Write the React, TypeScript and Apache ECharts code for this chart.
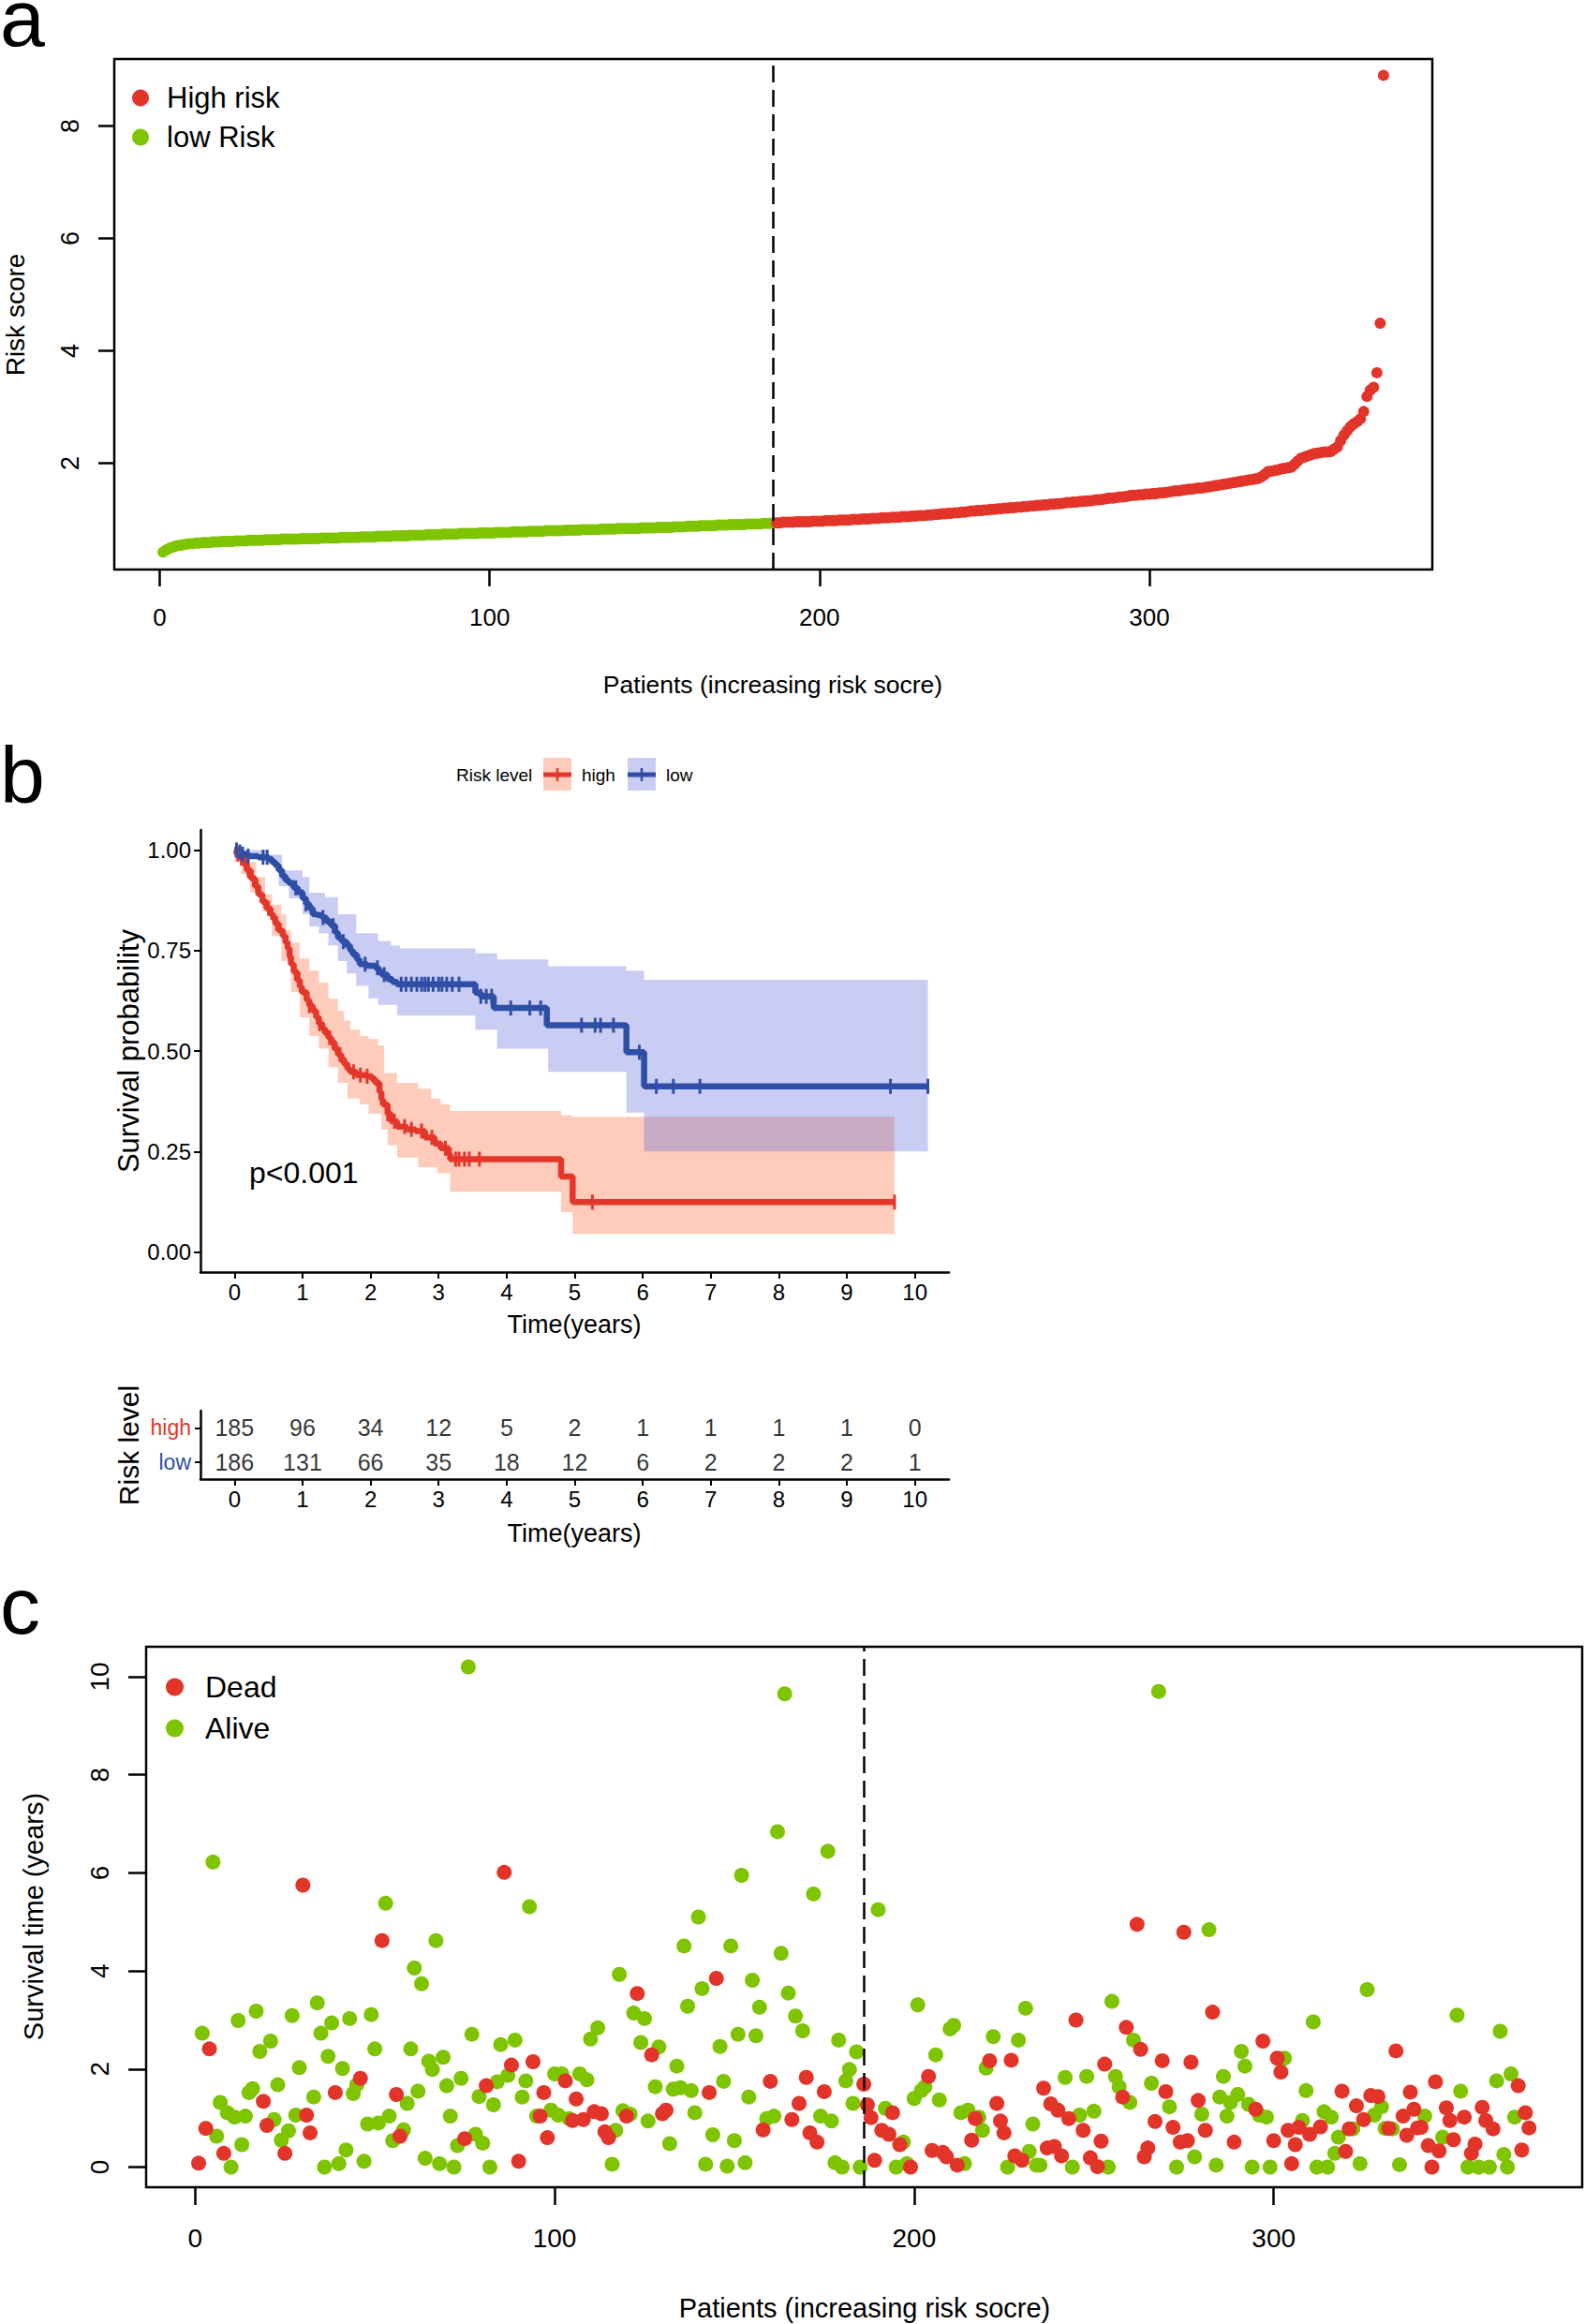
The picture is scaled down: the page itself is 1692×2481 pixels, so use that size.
import React, { useEffect, useRef } from 'react';
import * as echarts from 'echarts';

const FONT = 'Liberation Sans';
const RED = '#E3342A';
const GREEN = '#7EC400';
const KM_RED = '#E3372B';
const KM_BLUE = '#2F4FA7';
const RED_BAND = 'rgba(255,110,60,0.35)';
const BLUE_BAND = 'rgba(90,100,220,0.33)';

// ---------- Panel a: risk scores (sorted) ----------
const lowRiskScores = [
  0.42,0.46,0.49,0.51,0.53,0.54,0.55,0.56,0.57,0.57,0.58,0.58,0.59,0.59,0.59,0.60,0.60,0.60,0.61,0.61,
  0.61,0.61,0.62,0.62,0.62,0.62,0.63,0.63,0.63,0.63,0.63,0.64,0.64,0.64,0.64,0.64,0.65,0.65,0.65,0.65,
  0.65,0.65,0.66,0.66,0.66,0.66,0.66,0.66,0.67,0.67,0.67,0.67,0.67,0.67,0.68,0.68,0.68,0.68,0.68,0.68,
  0.69,0.69,0.69,0.69,0.69,0.70,0.70,0.70,0.70,0.70,0.71,0.71,0.71,0.71,0.71,0.72,0.72,0.72,0.72,0.72,
  0.73,0.73,0.73,0.73,0.73,0.74,0.74,0.74,0.74,0.74,0.75,0.75,0.75,0.75,0.75,0.75,0.76,0.76,0.76,0.76,
  0.76,0.77,0.77,0.77,0.77,0.77,0.78,0.78,0.78,0.78,0.78,0.79,0.79,0.79,0.79,0.79,0.80,0.80,0.80,0.80,
  0.80,0.80,0.81,0.81,0.81,0.81,0.81,0.82,0.82,0.82,0.82,0.82,0.82,0.83,0.83,0.83,0.83,0.83,0.84,0.84,
  0.84,0.84,0.84,0.84,0.84,0.85,0.85,0.85,0.85,0.85,0.86,0.86,0.86,0.86,0.86,0.87,0.87,0.87,0.87,0.88,
  0.88,0.88,0.88,0.89,0.89,0.89,0.89,0.89,0.90,0.90,0.90,0.90,0.91,0.91,0.91,0.91,0.91,0.92,0.92,0.92,
  0.92,0.92,0.93,0.93,0.93,0.94,
];
const highRiskScores = [
  0.94,0.94,0.95,0.95,0.95,0.95,0.96,0.96,0.96,0.96,0.96,0.97,0.97,0.97,0.97,0.98,0.98,0.98,0.98,0.99,
  0.99,0.99,0.99,1.00,1.00,1.00,1.01,1.01,1.01,1.02,1.02,1.02,1.03,1.03,1.03,1.04,1.04,1.04,1.05,1.05,
  1.05,1.06,1.06,1.07,1.07,1.07,1.08,1.08,1.09,1.09,1.10,1.10,1.11,1.11,1.12,1.12,1.13,1.13,1.14,1.15,
  1.15,1.16,1.16,1.17,1.17,1.18,1.18,1.19,1.19,1.20,1.20,1.21,1.21,1.22,1.22,1.23,1.23,1.24,1.24,1.25,
  1.25,1.26,1.26,1.27,1.27,1.28,1.28,1.29,1.30,1.30,1.31,1.31,1.32,1.32,1.33,1.33,1.34,1.35,1.35,1.36,
  1.37,1.38,1.38,1.39,1.40,1.40,1.41,1.42,1.43,1.43,1.44,1.44,1.45,1.45,1.46,1.46,1.47,1.47,1.48,1.49,
  1.50,1.51,1.51,1.52,1.53,1.54,1.54,1.55,1.56,1.56,1.57,1.58,1.59,1.60,1.61,1.62,1.63,1.64,1.65,1.66,
  1.67,1.68,1.69,1.70,1.71,1.72,1.73,1.76,1.80,1.85,1.86,1.87,1.88,1.90,1.91,1.92,1.93,1.98,2.04,2.09,
  2.11,2.13,2.15,2.17,2.18,2.19,2.20,2.20,2.21,2.25,2.29,2.40,2.50,2.58,2.65,2.70,2.74,2.79,2.92,3.19,
  3.30,3.35,3.61,4.49,8.90,
];
const patientTicks = [0, 100, 200, 300];
const riskScoreTicks = [2, 4, 6, 8];
const cutoffPatient = 186;

// ---------- Panel b: Kaplan-Meier ----------
const years = [0, 1, 2, 3, 4, 5, 6, 7, 8, 9, 10];
const probTicks = [0, 0.25, 0.5, 0.75, 1];
const highKm = [
  [0,1.0],[0.03,0.99],[0.09,0.98],[0.14,0.965],[0.18,0.95],[0.24,0.93],[0.3,0.91],[0.35,0.89],[0.41,0.871],
  [0.47,0.855],[0.53,0.84],[0.57,0.828],[0.6,0.817],[0.65,0.8],[0.71,0.786],[0.75,0.77],[0.78,0.755],
  [0.81,0.735],[0.83,0.716],[0.87,0.697],[0.92,0.677],[0.96,0.66],[0.99,0.646],[1.06,0.627],[1.1,0.613],
  [1.15,0.6],[1.2,0.584],[1.24,0.568],[1.29,0.556],[1.33,0.545],[1.38,0.533],[1.42,0.522],[1.47,0.506],
  [1.52,0.491],[1.57,0.48],[1.61,0.468],[1.66,0.456],[1.7,0.448],[1.79,0.44],[1.93,0.437],[2.02,0.43],
  [2.07,0.421],[2.13,0.398],[2.16,0.38],[2.18,0.367],[2.25,0.344],[2.3,0.325],[2.39,0.312],[2.53,0.305],
  [2.66,0.301],[2.8,0.285],[2.94,0.27],[3.03,0.258],[3.15,0.243],[3.17,0.231],[4.8,0.188],[4.97,0.124],[9.7,0.124],
];
const lowKm = [
  [0,1.0],[0.05,0.995],[0.1,0.99],[0.2,0.985],[0.35,0.982],[0.5,0.978],[0.55,0.97],[0.6,0.962],[0.65,0.95],
  [0.7,0.935],[0.75,0.925],[0.8,0.918],[0.87,0.906],[0.93,0.895],[1.0,0.88],[1.05,0.866],[1.1,0.855],
  [1.15,0.84],[1.22,0.838],[1.29,0.832],[1.35,0.822],[1.42,0.812],[1.48,0.795],[1.52,0.782],[1.58,0.772],
  [1.65,0.762],[1.7,0.75],[1.74,0.74],[1.8,0.728],[1.84,0.716],[1.95,0.712],[2.07,0.707],[2.12,0.698],
  [2.16,0.69],[2.25,0.679],[2.32,0.672],[2.39,0.666],[3.54,0.645],[3.62,0.636],[3.81,0.607],[4.59,0.564],
  [5.76,0.497],[6.02,0.412],[10.19,0.412],
];
const highUpper = [
  [0,1.0],[0.15,0.985],[0.23,0.97],[0.32,0.933],[0.45,0.89],[0.55,0.864],[0.69,0.84],[0.76,0.8],[0.83,0.77],
  [0.96,0.73],[1.1,0.7],[1.24,0.67],[1.38,0.63],[1.52,0.6],[1.61,0.576],[1.7,0.553],[1.84,0.537],[1.97,0.53],
  [2.11,0.514],[2.2,0.445],[2.39,0.421],[2.7,0.406],[2.89,0.382],[3.03,0.367],[3.17,0.351],[4.8,0.34],
  [4.97,0.336],[9.7,0.336],
];
const highLower = [
  [0,0.97],[0.1,0.94],[0.23,0.895],[0.41,0.848],[0.55,0.786],[0.69,0.724],[0.83,0.646],[0.96,0.584],
  [1.1,0.537],[1.24,0.506],[1.38,0.46],[1.52,0.421],[1.66,0.382],[1.84,0.367],[1.97,0.344],[2.16,0.305],
  [2.25,0.266],[2.39,0.235],[2.7,0.211],[2.98,0.196],[3.17,0.15],[4.8,0.099],[4.97,0.045],[9.7,0.045],
];
const lowUpper = [
  [0,1.0],[0.5,0.988],[0.7,0.949],[1.0,0.933],[1.1,0.894],[1.33,0.883],[1.52,0.84],[1.79,0.793],[2.11,0.774],
  [2.3,0.762],[2.43,0.755],[3.54,0.743],[3.86,0.728],[4.61,0.711],[5.76,0.7],[6.02,0.677],[10.19,0.677],
];
const lowLower = [
  [0,0.98],[0.5,0.965],[0.65,0.91],[0.8,0.88],[1.0,0.84],[1.1,0.81],[1.24,0.793],[1.38,0.763],[1.52,0.724],
  [1.65,0.693],[1.79,0.662],[1.97,0.631],[2.11,0.615],[2.39,0.588],[3.54,0.553],[3.86,0.506],[4.61,0.448],
  [5.76,0.347],[6.02,0.25],[10.19,0.25],
];
const highCensor = [0.05,0.1,0.2,0.33,0.5,0.62,0.8,0.95,1.1,1.25,1.4,1.55,1.75,1.85,1.95,2.25,2.35,2.5,2.6,2.75,2.9,3.1,3.25,3.3,3.38,3.45,3.6,5.26,9.7];
const lowCensor = [0.03,0.08,0.12,0.2,0.42,0.48,0.9,1.05,1.3,1.45,1.6,1.92,2.1,2.2,2.45,2.52,2.6,2.68,2.75,2.8,2.85,2.92,3.0,3.05,3.12,3.2,3.3,3.62,3.7,3.78,4.06,4.34,4.5,5.1,5.3,5.38,5.57,5.95,6.2,6.45,6.84,9.64,10.19];
const highAtRisk = [185, 96, 34, 12, 5, 2, 1, 1, 1, 1, 0];
const lowAtRisk = [186, 131, 66, 35, 18, 12, 6, 2, 2, 2, 1];

// ---------- Panel c: survival time & status per patient ----------
const survivalYears = [
  0.08,2.73,0.79,2.41,6.22,0.63,1.32,0.28,1.11,0.00,1.02,2.99,0.46,1.04,1.52,1.60,3.18,2.36,1.34,0.85,
  2.57,0.97,1.68,0.55,0.28,0.74,3.09,1.06,2.03,5.75,1.06,0.70,1.43,3.35,2.73,0.00,2.26,2.94,1.52,0.07,
  2.01,0.35,3.03,1.50,1.68,1.81,0.12,0.88,3.11,2.41,0.90,4.62,5.38,1.04,0.54,1.48,0.63,0.76,1.30,2.41,
  4.06,1.55,3.74,0.18,2.16,1.99,4.62,0.07,2.24,1.66,1.04,0.00,0.44,1.81,0.58,10.20,2.71,0.67,1.44,0.49,
  1.66,0.00,1.27,1.74,2.50,6.01,1.87,2.08,2.59,0.12,1.43,1.76,5.31,2.15,1.04,1.04,1.52,0.60,1.16,1.90,
  1.06,1.90,1.76,0.99,0.95,1.39,1.90,0.97,1.78,2.61,1.13,2.84,1.09,0.72,0.60,0.06,0.75,3.93,1.15,1.04,
  1.08,3.14,3.54,2.54,3.03,0.94,2.29,1.64,2.45,1.09,1.16,0.48,1.59,2.06,1.62,4.51,3.28,1.56,1.11,5.10,
  3.64,0.06,1.52,0.66,3.85,2.46,1.75,0.02,4.51,0.54,2.71,5.95,0.09,1.43,3.81,2.68,3.26,0.76,0.99,1.75,
  1.04,6.84,4.36,9.65,3.55,0.97,3.08,1.30,2.78,1.83,0.70,5.57,0.51,1.04,1.54,6.44,0.94,0.09,2.59,0.00,
  1.76,1.99,1.30,2.35,0.00,1.69,1.27,1.01,0.14,5.25,0.75,1.20,0.67,1.11,0.00,0.46,0.51,0.07,0.00,1.40,
  3.31,1.56,1.64,1.85,0.34,2.29,1.37,0.30,0.21,2.82,2.89,0.04,1.11,0.07,1.16,0.55,0.99,1.02,0.75,2.02,
  2.17,2.66,1.30,0.94,0.70,0.00,2.18,0.23,2.59,0.14,3.24,0.32,0.88,0.04,0.04,1.61,0.39,1.29,0.42,1.16,
  0.23,1.83,0.99,0.00,3.00,1.06,0.75,1.85,0.19,1.14,0.01,0.53,2.10,0.00,3.38,1.85,1.64,1.43,2.85,1.32,
  2.59,4.95,2.40,0.21,0.39,1.71,0.93,9.70,2.17,1.54,1.23,0.81,0.00,0.51,4.79,0.54,2.14,0.21,1.36,1.08,
  0.75,4.84,3.16,0.04,1.43,1.85,1.04,1.32,0.51,1.48,2.36,2.06,1.28,0.00,1.18,1.06,2.57,1.02,0.00,0.54,
  2.22,1.94,2.22,0.75,0.07,0.46,0.81,0.95,1.56,0.67,2.96,0.00,0.82,1.13,0.00,1.02,0.28,0.61,1.55,0.32,
  0.78,0.78,1.25,0.07,0.97,3.62,1.46,1.06,1.44,1.23,0.79,0.79,0.78,2.37,0.05,1.04,0.65,1.53,1.18,0.80,
  0.81,1.04,0.44,0.00,1.74,0.33,0.61,1.21,0.95,0.56,3.10,1.55,1.02,0.00,0.28,0.47,0.00,1.22,0.95,0.00,
  0.78,1.76,2.77,0.26,0.00,1.90,1.02,1.66,0.35,1.11,0.80,
];
const deadStatus = [
  1,0,1,1,0,0,0,1,0,0,0,0,0,0,0,0,0,0,1,1,
  0,0,0,0,1,0,0,0,0,1,1,1,0,0,0,0,0,0,1,0,
  0,0,0,0,0,1,0,0,0,0,0,1,0,0,0,1,1,0,0,0,
  0,0,0,0,0,0,0,0,0,0,0,0,0,0,1,0,0,0,0,0,
  1,0,0,0,0,1,0,1,0,1,0,0,0,1,0,1,1,1,0,0,
  0,0,1,0,1,1,0,1,0,0,1,0,1,1,1,0,0,0,0,1,
  0,0,1,0,0,0,1,0,0,1,1,0,0,0,0,0,0,0,0,0,
  0,0,1,0,1,0,0,0,0,0,0,0,0,0,0,0,0,1,0,1,
  0,0,0,0,0,1,0,1,0,1,1,0,1,0,1,0,0,0,0,0,
  0,0,0,0,0,1,1,1,1,0,1,0,1,1,0,1,0,0,1,0,
  0,0,0,1,1,0,0,1,1,0,0,1,0,0,0,1,1,0,0,0,
  1,0,1,1,1,0,1,1,0,1,0,0,0,0,0,1,1,1,1,1,
  1,0,1,0,1,0,1,0,1,0,1,1,1,0,0,0,0,1,1,0,
  0,1,1,1,1,0,1,0,1,1,0,1,0,1,1,1,1,0,1,0,
  1,0,1,0,0,0,0,0,1,0,0,0,0,0,1,0,1,0,0,1,
  1,1,0,1,1,1,1,0,0,1,0,0,1,0,0,0,0,0,1,1,
  1,0,1,0,1,0,1,0,1,0,0,1,0,1,0,1,1,1,1,1,
  1,0,1,1,1,1,0,1,1,1,0,0,1,0,1,1,0,1,1,0,
  1,0,0,0,0,0,0,1,1,1,1,
];
const survivalTicks = [0, 2, 4, 6, 8, 10];

const stepAt = (pts: number[][], t: number) => {
  let v = pts[0][1];
  for (const p of pts) {
    if (p[0] <= t) v = p[1];
    else break;
  }
  return v;
};

const bandSeries = (upper: number[][], lower: number[][], color: string, z: number) => ({
  type: 'custom',
  xAxisIndex: 1,
  yAxisIndex: 1,
  silent: true,
  z,
  data: [[upper[0][0], upper[0][1]]],
  renderItem: (params: any, api: any) => {
    if (params.dataIndex !== 0) return null;
    const pts: number[][] = [];
    for (let i = 0; i < upper.length; i++) {
      const t = upper[i][0];
      const tn = i + 1 < upper.length ? upper[i + 1][0] : t;
      pts.push(api.coord([t, upper[i][1]]));
      pts.push(api.coord([tn, upper[i][1]]));
    }
    for (let i = lower.length - 1; i >= 0; i--) {
      const t = lower[i][0];
      const tn = i + 1 < lower.length ? lower[i + 1][0] : t;
      pts.push(api.coord([tn, lower[i][1]]));
      pts.push(api.coord([t, lower[i][1]]));
    }
    return { type: 'polygon', shape: { points: pts }, style: { fill: color } };
  },
});

const blackTick = (len: number, w = 2.5) => ({ show: true, length: len, lineStyle: { color: '#000', width: w } });

function buildOption() {
  const txt = (x: number, y: number, text: string, size: number, extra: any = {}) => ({
    type: 'text',
    x,
    y,
    rotation: extra.rotation || 0,
    style: {
      text,
      fontSize: size,
      fontFamily: FONT,
      fill: extra.fill || '#000',
      align: extra.align || 'center',
      verticalAlign: extra.verticalAlign || 'middle',
    },
  });

  const lowData = lowRiskScores.map((v, i) => [i + 1, v]);
  const highData = highRiskScores.map((v, i) => [lowRiskScores.length + i + 1, v]);
  const deadData: number[][] = [];
  const aliveData: number[][] = [];
  survivalYears.forEach((t, i) => {
    (deadStatus[i] ? deadData : aliveData).push([i + 1, t]);
  });

  const dashedLine = {
    silent: true,
    symbol: ['none', 'none'],
    label: { show: false },
    lineStyle: { type: [18, 8], color: '#000', width: 2.5 },
    data: [{ xAxis: cutoffPatient }],
  };
  const hiddenLine = { show: false, onZero: false };
  const blackLine = { show: true, onZero: false, lineStyle: { color: '#000', width: 2.5 } };

  return {
    animation: false,
    backgroundColor: '#fff',
    textStyle: { fontFamily: FONT },
    grid: [
      { left: 122, top: 63, width: 1407, height: 545, show: true, borderColor: '#000', borderWidth: 2.5 },
      { left: 214, top: 886, width: 799, height: 472 },
      { left: 214, top: 1506, width: 799, height: 73 },
      { left: 156, top: 1758, width: 1533, height: 577, show: true, borderColor: '#000', borderWidth: 2.5 },
    ],
    xAxis: [
      {
        gridIndex: 0, type: 'value', min: -13.8, max: 385.8,
        axisLine: hiddenLine, splitLine: { show: false },
        axisTick: { ...blackTick(18), customValues: patientTicks },
        axisLabel: { customValues: patientTicks, fontSize: 26, color: '#000', margin: 38 },
      },
      {
        gridIndex: 1, type: 'value', min: -0.5, max: 10.5,
        axisLine: blackLine, splitLine: { show: false },
        axisTick: { ...blackTick(7, 2), customValues: years },
        axisLabel: { customValues: years, fontSize: 24, color: '#000', margin: 9 },
      },
      {
        gridIndex: 2, type: 'value', min: -0.5, max: 10.5,
        axisLine: blackLine, splitLine: { show: false },
        axisTick: { ...blackTick(7, 2), customValues: years },
        axisLabel: { customValues: years, fontSize: 24, color: '#000', margin: 9 },
      },
      {
        gridIndex: 3, type: 'value', min: -13.6, max: 385.8,
        axisLine: hiddenLine, splitLine: { show: false },
        axisTick: { ...blackTick(19), customValues: patientTicks },
        axisLabel: { customValues: patientTicks, fontSize: 28, color: '#000', margin: 40 },
      },
    ],
    yAxis: [
      {
        gridIndex: 0, type: 'value', min: 0.11, max: 9.19,
        axisLine: hiddenLine, splitLine: { show: false },
        axisTick: { ...blackTick(17), customValues: riskScoreTicks },
        axisLabel: { customValues: riskScoreTicks, fontSize: 27, color: '#000', rotate: 90, margin: 34 },
      },
      {
        gridIndex: 1, type: 'value', min: -0.05, max: 1.05,
        axisLine: blackLine, splitLine: { show: false },
        axisTick: { ...blackTick(7, 2), customValues: probTicks },
        axisLabel: { customValues: probTicks, fontSize: 24, color: '#000', margin: 10, formatter: (v: number) => v.toFixed(2) },
      },
      {
        gridIndex: 2, type: 'category', data: ['low', 'high'],
        axisLine: blackLine, splitLine: { show: false },
        axisTick: { ...blackTick(6, 2), alignWithLabel: true },
        axisLabel: {
          fontSize: 23, margin: 10,
          formatter: (v: string) => `{${v}|${v}}`,
          rich: { high: { color: KM_RED, fontSize: 23, fontFamily: FONT }, low: { color: KM_BLUE, fontSize: 23, fontFamily: FONT } },
        },
      },
      {
        gridIndex: 3, type: 'value', min: -0.41, max: 10.61,
        axisLine: hiddenLine, splitLine: { show: false },
        axisTick: { ...blackTick(19), customValues: survivalTicks },
        axisLabel: { customValues: survivalTicks, fontSize: 28, color: '#000', rotate: 90, margin: 36 },
      },
    ],
    legend: [
      {
        data: ['High risk', 'low Risk'], orient: 'vertical', left: 141, top: 89, padding: 0, itemGap: 11,
        icon: 'circle', itemWidth: 18, itemHeight: 18, selectedMode: false,
        textStyle: { fontSize: 31, lineHeight: 31, color: '#000', fontFamily: FONT, padding: [0, 0, 0, 14] },
      },
      {
        data: ['Dead', 'Alive'], orient: 'vertical', left: 177, top: 1785, padding: 0, itemGap: 12,
        icon: 'circle', itemWidth: 19, itemHeight: 19, selectedMode: false,
        textStyle: { fontSize: 32, lineHeight: 32, color: '#000', fontFamily: FONT, padding: [0, 0, 0, 18] },
      },
    ],
    series: [
      {
        name: 'low Risk', type: 'scatter', xAxisIndex: 0, yAxisIndex: 0, data: lowData,
        symbolSize: 12, itemStyle: { color: GREEN, opacity: 1 }, markLine: dashedLine,
      },
      {
        name: 'High risk', type: 'scatter', xAxisIndex: 0, yAxisIndex: 0, data: highData,
        symbolSize: 12, itemStyle: { color: RED, opacity: 1 },
      },
      bandSeries(highUpper, highLower, RED_BAND, 1),
      bandSeries(lowUpper, lowLower, BLUE_BAND, 2),
      {
        name: 'high', type: 'line', step: 'end', xAxisIndex: 1, yAxisIndex: 1, data: highKm,
        showSymbol: false, lineStyle: { color: KM_RED, width: 6.5 }, itemStyle: { color: KM_RED }, z: 3,
      },
      {
        name: 'low', type: 'line', step: 'end', xAxisIndex: 1, yAxisIndex: 1, data: lowKm,
        showSymbol: false, lineStyle: { color: KM_BLUE, width: 6.5 }, itemStyle: { color: KM_BLUE }, z: 3,
      },
      {
        type: 'scatter', xAxisIndex: 1, yAxisIndex: 1, symbol: 'rect', symbolSize: [3, 16],
        data: highCensor.map((t) => [t, stepAt(highKm, t)]), itemStyle: { color: KM_RED, opacity: 1 }, z: 4,
      },
      {
        type: 'scatter', xAxisIndex: 1, yAxisIndex: 1, symbol: 'rect', symbolSize: [3, 16],
        data: lowCensor.map((t) => [t, stepAt(lowKm, t)]), itemStyle: { color: KM_BLUE, opacity: 1 }, z: 4,
      },
      {
        type: 'scatter', xAxisIndex: 2, yAxisIndex: 2, symbolSize: 1, itemStyle: { color: 'rgba(0,0,0,0)' },
        data: highAtRisk.map((n, i) => [years[i], 'high', n]),
        label: { show: true, position: 'inside', formatter: (p: any) => String(p.value[2]), fontSize: 25, color: '#000', fontFamily: FONT },
      },
      {
        type: 'scatter', xAxisIndex: 2, yAxisIndex: 2, symbolSize: 1, itemStyle: { color: 'rgba(0,0,0,0)' },
        data: lowAtRisk.map((n, i) => [years[i], 'low', n]),
        label: { show: true, position: 'inside', formatter: (p: any) => String(p.value[2]), fontSize: 25, color: '#000', fontFamily: FONT },
      },
      {
        name: 'Alive', type: 'scatter', xAxisIndex: 3, yAxisIndex: 3, data: aliveData,
        symbolSize: 16, itemStyle: { color: GREEN, opacity: 1 }, markLine: dashedLine,
      },
      {
        name: 'Dead', type: 'scatter', xAxisIndex: 3, yAxisIndex: 3, data: deadData,
        symbolSize: 16, itemStyle: { color: RED, opacity: 1 },
      },
    ],
    graphic: [
      txt(0, 19, 'a', 86, { align: 'left' }),
      txt(0, 827, 'b', 86, { align: 'left' }),
      txt(0, 1714, 'c', 86, { align: 'left' }),
      // panel a titles
      txt(16, 336, 'Risk score', 28, { rotation: Math.PI / 2 }),
      txt(825, 731, 'Patients (increasing risk socre)', 26.5),
      // panel b legend
      txt(487, 827, 'Risk level', 19, { align: 'left' }),
      { type: 'rect', shape: { x: 580, y: 809, width: 30, height: 35 }, style: { fill: RED_BAND } },
      { type: 'line', shape: { x1: 580, y1: 827, x2: 610, y2: 827 }, style: { stroke: KM_RED, lineWidth: 5 } },
      { type: 'line', shape: { x1: 595, y1: 820, x2: 595, y2: 834 }, style: { stroke: KM_RED, lineWidth: 2.5 } },
      txt(621, 827, 'high', 19, { align: 'left' }),
      { type: 'rect', shape: { x: 670, y: 809, width: 30, height: 35 }, style: { fill: BLUE_BAND } },
      { type: 'line', shape: { x1: 670, y1: 827, x2: 700, y2: 827 }, style: { stroke: KM_BLUE, lineWidth: 5 } },
      { type: 'line', shape: { x1: 685, y1: 820, x2: 685, y2: 834 }, style: { stroke: KM_BLUE, lineWidth: 2.5 } },
      txt(711, 827, 'low', 19, { align: 'left' }),
      // panel b titles
      txt(137, 1122, 'Survival probability', 31, { rotation: Math.PI / 2 }),
      txt(613, 1414, 'Time(years)', 27),
      txt(266, 1252, 'p<0.001', 32, { align: 'left' }),
      txt(137, 1543, 'Risk level', 30, { rotation: Math.PI / 2 }),
      txt(613, 1637, 'Time(years)', 27),
      // panel c titles
      txt(36, 2046, 'Survival time (years)', 29, { rotation: Math.PI / 2 }),
      txt(923, 2464, 'Patients (increasing risk socre)', 29),
    ],
  };
}

export default function App() {
  const ref = useRef<HTMLDivElement>(null);
  useEffect(() => {
    if (!ref.current) return;
    const chart = echarts.init(ref.current, null, { renderer: 'svg' });
    chart.setOption(buildOption() as any);
    return () => chart.dispose();
  }, []);
  return (
    <div
      ref={ref}
      style={{ position: 'absolute', left: 0, top: 0, width: 1692, height: 2481, background: '#fff' }}
    />
  );
}
